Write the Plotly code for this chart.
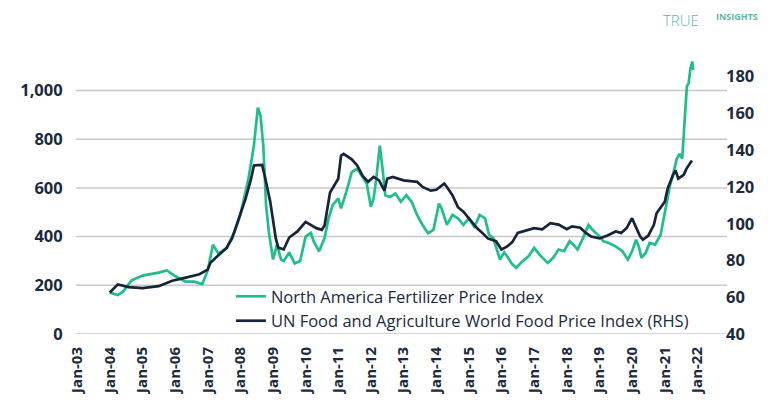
import plotly.graph_objects as go

# ---- Data ----
fert_dates = [
    "2004-01-01", "2004-04-01", "2004-06-01", "2004-09-01", "2005-01-01", "2005-04-01",
    "2005-07-01", "2005-10-01", "2006-01-01", "2006-05-01", "2006-08-01", "2006-11-01",
    "2007-01-01", "2007-03-01", "2007-05-01", "2007-08-01", "2007-11-01", "2008-01-01",
    "2008-04-01", "2008-06-01", "2008-07-15", "2008-08-15", "2008-09-15", "2008-10-15",
    "2008-11-15", "2009-01-01", "2009-02-15", "2009-04-01", "2009-05-01", "2009-07-01",
    "2009-09-01", "2009-11-01", "2010-01-01", "2010-03-01", "2010-04-01", "2010-06-01",
    "2010-08-01", "2010-09-15", "2010-11-01", "2011-01-01", "2011-02-01", "2011-04-01",
    "2011-06-01", "2011-08-01", "2011-10-01", "2011-11-15", "2012-01-01", "2012-02-01",
    "2012-03-01", "2012-04-10", "2012-05-10", "2012-06-10", "2012-08-01", "2012-10-01",
    "2012-12-01", "2013-02-01", "2013-04-01", "2013-06-01", "2013-08-01", "2013-10-01",
    "2013-12-01", "2014-02-01", "2014-03-01", "2014-05-01", "2014-07-01", "2014-09-01",
    "2014-11-01", "2015-01-01", "2015-03-01", "2015-04-01", "2015-05-01", "2015-07-01",
    "2015-08-15", "2015-10-01", "2015-12-15", "2016-02-01", "2016-03-15", "2016-05-01",
    "2016-06-15", "2016-08-15", "2016-11-01", "2017-01-01", "2017-03-01", "2017-06-01",
    "2017-08-01", "2017-10-01", "2017-12-01", "2018-02-01", "2018-03-15", "2018-05-01",
    "2018-07-01", "2018-09-01", "2018-10-15", "2019-01-01", "2019-02-15", "2019-04-15",
    "2019-07-01", "2019-09-15", "2019-11-15", "2020-01-01", "2020-02-15", "2020-03-15",
    "2020-04-15", "2020-06-01", "2020-07-15", "2020-09-15", "2020-11-15", "2021-01-01",
    "2021-02-01", "2021-03-01", "2021-04-01", "2021-05-15", "2021-06-15", "2021-07-15",
    "2021-08-10", "2021-09-05", "2021-09-25", "2021-10-15", "2021-11-05", "2021-11-15",
]
fert_values = [
    170, 160, 175, 220, 240, 245,
    252, 261, 238, 215, 215, 205,
    260, 367, 330, 354, 422, 489,
    638, 773, 930, 895, 770, 530,
    420, 306, 367, 306, 300, 335,
    290, 300, 400, 415, 380, 340,
    395, 475, 530, 557, 516, 584,
    665, 679, 645, 618, 523, 557,
    638, 774, 679, 570, 563, 577,
    543, 570, 543, 489, 448, 414,
    428, 536, 516, 448, 489, 475,
    448, 475, 441, 462, 489, 475,
    408, 394, 306, 335, 313, 286,
    272, 296, 320, 354, 326, 292,
    313, 347, 340, 381, 367, 347,
    394, 448, 428, 401, 381, 374,
    360, 340, 306, 340, 387, 360,
    313, 333, 374, 367, 408, 496,
    570, 611, 652, 720, 740, 720,
    869, 1017, 1031, 1092, 1119, 1085,
]

food_dates = [
    "2004-01-01", "2004-04-01", "2004-08-01", "2005-01-01", "2005-07-01", "2005-12-01",
    "2006-05-01", "2006-10-01", "2007-01-01", "2007-02-01", "2007-04-01", "2007-08-01",
    "2007-10-01", "2008-01-01", "2008-03-01", "2008-05-01", "2008-06-01", "2008-09-01",
    "2008-10-01", "2008-12-01", "2009-02-01", "2009-03-01", "2009-05-01", "2009-07-01",
    "2009-10-01", "2010-01-01", "2010-03-01", "2010-05-01", "2010-07-01", "2010-08-01",
    "2010-10-01", "2011-01-01", "2011-02-01", "2011-03-01", "2011-06-01", "2011-08-01",
    "2011-10-01", "2011-12-01", "2012-02-01", "2012-04-01", "2012-06-01", "2012-07-01",
    "2012-09-01", "2013-01-01", "2013-06-01", "2013-08-01", "2013-11-01", "2014-01-01",
    "2014-04-01", "2014-05-01", "2014-07-01", "2014-09-01", "2014-11-01", "2015-01-01",
    "2015-04-01", "2015-06-01", "2015-08-01", "2015-11-01", "2016-01-01", "2016-03-01",
    "2016-05-01", "2016-07-01", "2016-10-01", "2017-01-01", "2017-04-01", "2017-07-01",
    "2017-10-01", "2018-01-01", "2018-03-01", "2018-06-01", "2018-08-01", "2018-10-01",
    "2019-01-01", "2019-04-01", "2019-07-01", "2019-09-01", "2019-11-01", "2020-01-01",
    "2020-02-01", "2020-04-01", "2020-05-01", "2020-07-01", "2020-09-01", "2020-10-01",
    "2021-01-01", "2021-02-01", "2021-04-01", "2021-05-01", "2021-06-01", "2021-08-01",
    "2021-09-01", "2021-11-01",
]
food_values = [
    62.6, 67.0, 65.5, 65.0, 66.0, 69.0,
    70.7, 72.5, 75.0, 78.8, 81.5, 86.8,
    92.0, 104.8, 113.8, 124.5, 131.7, 132.0,
    126.0, 112.0, 92.0, 87.0, 86.0, 92.5,
    95.8, 101.0, 99.4, 97.6, 96.7, 99.0,
    117.0, 124.5, 137.0, 138.0, 135.0, 131.7,
    126.0, 122.8, 125.5, 123.6, 118.0, 124.5,
    125.5, 123.6, 122.8, 120.0, 118.0, 118.5,
    121.8, 120.0, 115.5, 109.0, 106.6, 103.0,
    97.6, 95.0, 92.0, 90.5, 86.0, 87.5,
    90.0, 95.0, 96.5, 97.6, 97.0, 100.3,
    99.5, 97.0, 98.6, 97.8, 95.0, 93.0,
    92.0, 93.6, 95.8, 95.0, 97.6, 103.0,
    99.5, 93.0, 91.3, 93.6, 99.4, 105.7,
    112.0, 119.0, 126.3, 129.0, 124.5, 126.6,
    130.0, 134.4,
]

left_ticks = [0, 200, 400, 600, 800, 1000]
right_ticks = [40, 60, 80, 100, 120, 140, 160, 180]
x_tick_years = list(range(2003, 2023))
x_tick_vals = [f"{y}-01-01" for y in x_tick_years]
x_tick_text = [f"Jan-{y % 100:02d}" for y in x_tick_years]

GREEN = "#1fbf8c"
NAVY = "#16233a"
TEXT = "#1b2a3c"
FONT = "Open Sans"
GRID = "#c8c8c8"
LOGO = "#5bb7a3"

fig = go.Figure()
fig.add_trace(go.Scatter(
    x=fert_dates, y=fert_values, mode="lines",
    name="North America Fertilizer Price Index",
    line=dict(color=GREEN, width=2.7),
))
fig.add_trace(go.Scatter(
    x=food_dates, y=food_values, mode="lines",
    name="UN Food and Agriculture World Food Price Index (RHS)",
    line=dict(color=NAVY, width=2.7),
    yaxis="y2",
))

# The page places the figure 8px in from the top-left corner (default body margin),
# so the figure is sized to fit the remaining window.
fig.update_layout(
    width=760, height=399,
    margin=dict(l=55, r=41, t=47, b=70),
    paper_bgcolor="white", plot_bgcolor="white",
    font=dict(family=FONT, color=TEXT),
    showlegend=True,
    legend=dict(
        x=0.238, y=0.197, xanchor="left", yanchor="top",
        bgcolor="rgba(0,0,0,0)",
        font=dict(family=FONT, size=16.5, color=TEXT),
        itemwidth=30,
    ),
    xaxis=dict(
        type="date",
        range=["2002-12-20", "2022-11-28"],
        tickmode="array", tickvals=x_tick_vals, ticktext=x_tick_text,
        tickangle=-90,
        tickfont=dict(family=FONT, size=15, color=TEXT, weight="bold"),
        showgrid=False, zeroline=False, showline=False,
        ticks="outside", ticklen=6, tickcolor="rgba(0,0,0,0)",
    ),
    yaxis=dict(
        range=[0, 1146],
        tickmode="array", tickvals=left_ticks,
        tickformat=",",
        tickfont=dict(family=FONT, size=16.5, color=TEXT, weight="bold"),
        showgrid=False, zeroline=False, showline=False,
        ticks="outside", ticklen=9, tickcolor="rgba(0,0,0,0)",
    ),
    yaxis2=dict(
        range=[40, 191.8],
        overlaying="y", side="right",
        tickmode="array", tickvals=right_ticks,
        tickfont=dict(family=FONT, size=16.5, color=TEXT, weight="bold"),
        showgrid=False, zeroline=False, showline=False, ticks="",
        ticklabelstandoff=-2,
    ),
)

# Horizontal gridlines at the left-axis ticks
for v in left_ticks:
    fig.add_shape(type="line", xref="paper", yref="y", x0=0, x1=1, y0=v, y1=v,
                  line=dict(color=GRID, width=1.5), layer="below")

# Logo text
fig.add_annotation(
    xref="paper", yref="paper", x=0.929, y=1.1259, xanchor="center", yanchor="middle",
    text="TRUE", showarrow=False,
    font=dict(family=FONT, size=15, color=LOGO, weight=300),
)
fig.add_annotation(
    xref="paper", yref="paper", x=1.015, y=1.138, xanchor="center", yanchor="middle",
    text="INSIGHTS", showarrow=False,
    font=dict(family=FONT, size=9, color=LOGO, weight="bold"),
)

# Right frame line
frame = dict(color="#8c9096", width=3)
fig.add_shape(type="line", xref="paper", yref="paper", x0=1.0587, x1=1.0587, y0=-0.26, y1=1.17, line=frame)

fig.write_html("out.html")
